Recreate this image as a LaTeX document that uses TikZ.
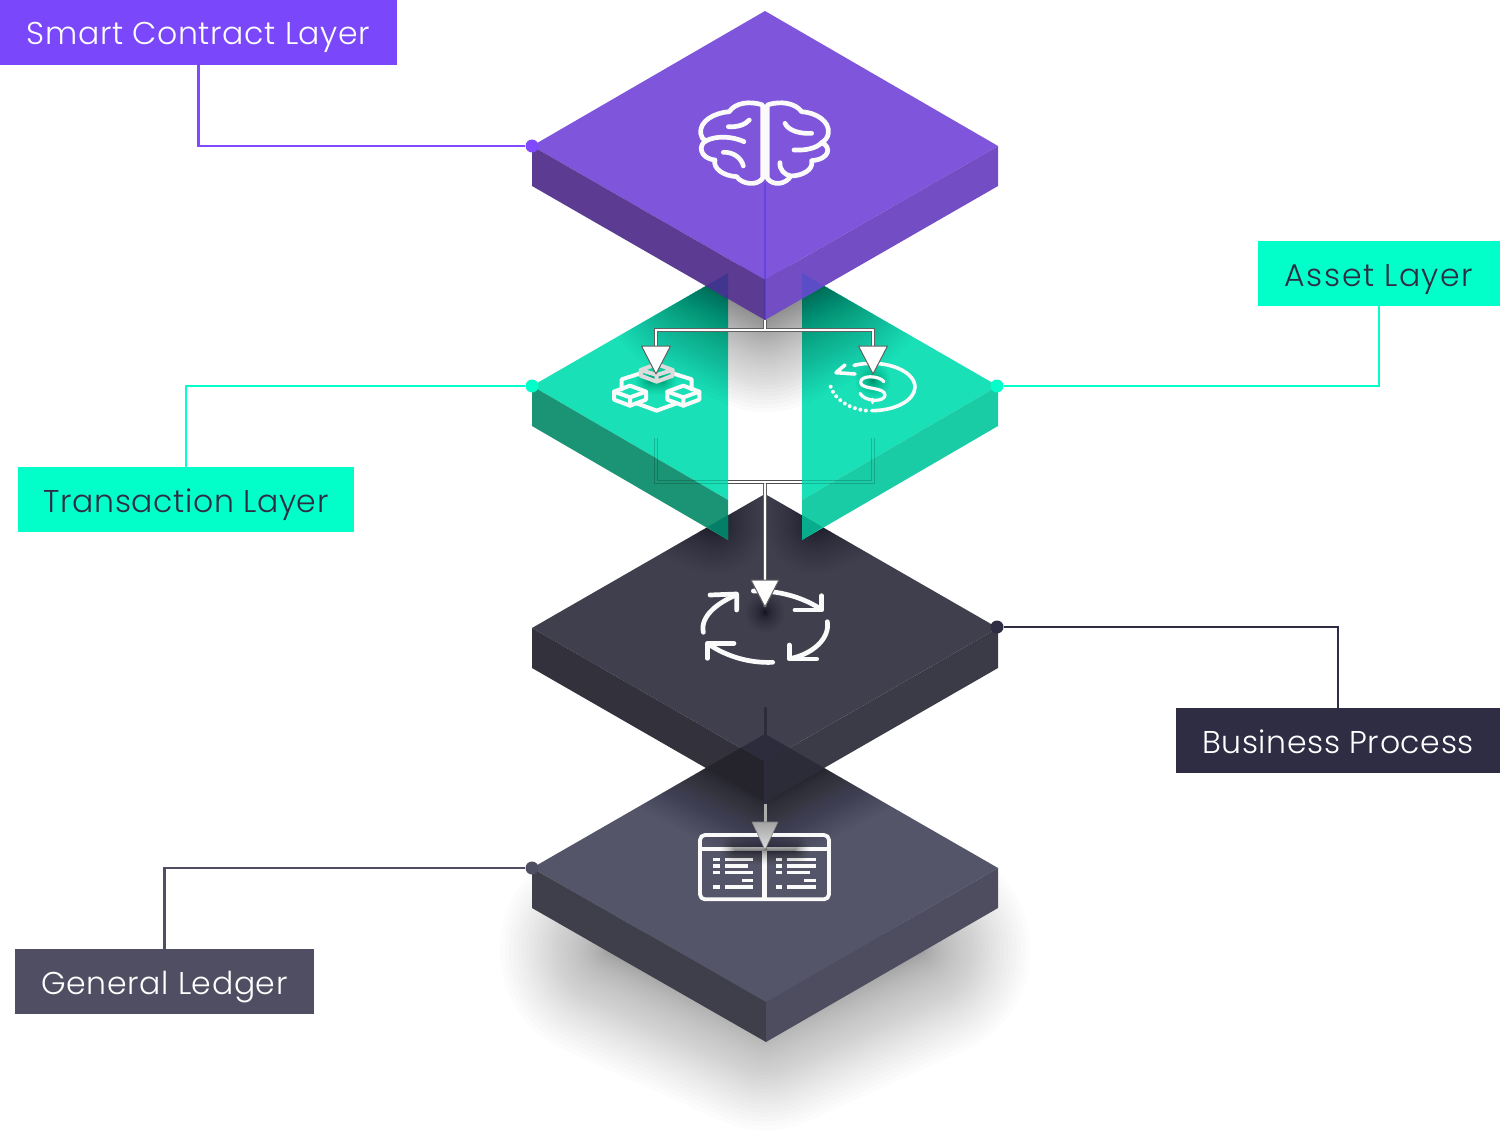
\documentclass[tikz,border=0pt]{standalone}
\usepackage{fontspec}
\setmainfont{Poppins}[UprightFont=* Light,LetterSpace=2]
\usepackage{xcolor}

\definecolor{violetbar}{HTML}{7B47FA}
\definecolor{violetline}{HTML}{8049FF}
\definecolor{violettop}{HTML}{7F55DC}
\definecolor{violetleft}{HTML}{5B3C92}
\definecolor{violetright}{HTML}{734DC4}
\definecolor{violetlap}{HTML}{403690}
\definecolor{violetlapr}{HTML}{5B4DC5}
\definecolor{tealbar}{HTML}{03FFC9}
\definecolor{tealtop}{HTML}{19E0B6}
\definecolor{tealleft}{HTML}{1B9475}
\definecolor{tealright}{HTML}{1ACCA6}
\definecolor{teallap}{HTML}{047F67}
\definecolor{teallapr}{HTML}{06AC8B}
\definecolor{inkbar}{HTML}{2E2D44}
\definecolor{inktop}{HTML}{403F4D}
\definecolor{inkleft}{HTML}{32313C}
\definecolor{inkright}{HTML}{3B3A47}
\definecolor{inklap}{HTML}{2D2C3D}
\definecolor{inklapl}{HTML}{25242D}
\definecolor{inklapr}{HTML}{2C2B38}
\definecolor{slatebar}{HTML}{4F4E63}
\definecolor{slatetop}{HTML}{55556A}
\definecolor{slateleft}{HTML}{3F3E4B}
\definecolor{slateright}{HTML}{4E4D60}
\definecolor{iconwhite}{HTML}{FAFAFA}

\tikzset{
  tag/.style={rectangle,inner sep=0pt,minimum height=65pt,text height=25pt,text depth=0pt,font=\fontsize{31.5}{32}\selectfont},
  leader/.style={line width=2.4pt},
  dotmark/.style={circle,inner sep=0pt,minimum size=13pt},
  iconline/.style={draw=iconwhite,line width=4.7pt,line cap=round,line join=round},
  pipe/.style={draw=black!62,double=white,line width=1pt,double distance=2.4pt},
  headtip/.style={draw=black!62,fill=white,line width=1pt,line join=round},
  faintline/.style={draw=black,opacity=.18,line width=.9pt},
}

% stacked see-through copies of a path give a soft edge
\newcommand{\softshadow}[3]{%
  \foreach \w in {1,...,48}
    \draw[black,fill=black,opacity=#3,line join=round,line cap=round,line width={\w*\w/2304*#2}] #1;
}

\begin{document}
\begin{tikzpicture}[x=1pt,y=-1pt]
\useasboundingbox (0,0) rectangle (1500,1145);

% general ledger slab
\softshadow{(610,950) -- (765,880) -- (920,950) -- (765,1020) -- cycle}{220}{0.013}
\fill[slatetop] (532,868) -- (765,734) -- (998,868) -- (766,1002) -- cycle;
\fill[slateleft] (532,868) -- (766,1002) -- (766,1042) -- (532,908) -- cycle;
\fill[slateright] (998,868) -- (766,1002) -- (766,1042) -- (998,908) -- cycle;
\begin{scope}
\clip (532,868) -- (765,734) -- (998,868) -- (766,1002) -- cycle;
\softshadow{(670,745) -- (765,690) -- (860,745) -- (765,795) -- cycle}{140}{0.014}
\end{scope}

% ledger icon
\begin{scope}[shift={(690,820)},scale=0.3333]
\draw[iconline,line width=3.8pt,rounded corners=5pt] (30,45) rectangle (417,238);
\draw[iconline,line width=3.4pt] (30,87) -- (417,87);
\draw[iconline,line width=4.6pt,line cap=butt] (224,87) -- (224,238);
\foreach \r/\a/\b in {118/105/190,138/105/175,157/105/190,201/105/190}
  \draw[iconline,line width=3.2pt,line cap=butt] (70,\r) -- (90,\r) (\a,\r) -- (\b,\r);
\draw[iconline,line width=3.2pt,line cap=butt] (157,182) -- (190,182);
\foreach \r/\a/\b in {118/290/378,138/290/378,157/290/360,201/290/378}
  \draw[iconline,line width=3.2pt,line cap=butt] (258,\r) -- (276,\r) (\a,\r) -- (\b,\r);
\draw[iconline,line width=3.2pt,line cap=butt] (342,182) -- (378,182);
\end{scope}

% business process slab
\fill[inktop] (532,628) -- (765,494) -- (998,628) -- (765,762) -- cycle;
\fill[inkleft] (532,628) -- (765,762) -- (765,802) -- (532,668) -- cycle;
\fill[inkright] (998,628) -- (765,762) -- (765,802) -- (998,668) -- cycle;
\begin{scope}
\clip (532,868) -- (765,734) -- (998,868) -- (766,1002) -- cycle;
\fill[inklap] (532,628) -- (765,494) -- (998,628) -- (765,762) -- cycle;
\fill[inklapl] (532,628) -- (765,762) -- (765,802) -- (532,668) -- cycle;
\fill[inklapr] (998,628) -- (765,762) -- (765,802) -- (998,668) -- cycle;
\end{scope}
\begin{scope}
\clip (532,628) -- (765,494) -- (998,628) -- (765,762) -- cycle;
\softshadow{(625,490) -- (715,490) -- (715,525) -- cycle}{100}{0.008}
\softshadow{(905,490) -- (815,490) -- (815,525) -- cycle}{100}{0.008}
\end{scope}

% cycle icon
\begin{scope}[shift={(690,575)},scale=0.3333]
\draw[iconline] (40,172) .. controls (30,125) and (80,85) .. (138,60);
\draw[iconline] (60,60) -- (140,57) -- (140,105);
\draw[iconline] (190,48) .. controls (270,45) and (345,70) .. (393,103);
\draw[iconline] (315,105) -- (395,105) -- (395,62);
\draw[iconline] (412,140) .. controls (420,190) and (370,235) .. (305,250);
\draw[iconline] (298,210) -- (298,252) -- (380,252);
\draw[iconline] (248,262) .. controls (180,265) and (110,245) .. (55,207);
\draw[iconline] (132,205) -- (52,205) -- (52,250);
\end{scope}

\coordinate (ledgertop) at (765,708);
\coordinate (ledgerbend) at (765,804);
\coordinate (ledgertip) at (765,850);
\coordinate (cycletip) at (765,607);
\coordinate (lowjoin) at (765,482);
\coordinate (lowleft) at (656,438);
\coordinate (lowright) at (873,438);
\coordinate (blockneck) at (656,350);
\coordinate (dollarneck) at (873,350);
\coordinate (blocktip) at (656,374);
\coordinate (dollartip) at (873,374);
\coordinate (treetop) at (765,183);
\coordinate (treelow) at (765,320);
\coordinate (treejoin) at (765,330);

% ledger arrow
\draw[line width=3pt,draw=inklap,line cap=round] (ledgertop) -- (ledgerbend);
\draw[line width=3pt,draw=black!32] (ledgerbend) -- (ledgertip);
\softshadow{(735,850) -- (795,850)}{30}{0.012}
\draw[draw=black!50,line width=.6pt,top color=black!36,bottom color=black!12,line join=round] (ledgertip) ++(-13,-28) -- ++(26,0) -- ++(-13,28) -- cycle;

% cycle arrow
\draw[pipe] (lowleft) |- (lowjoin) -| (lowright) (lowjoin) -- (cycletip);
\softshadow{(765,612) -- (765,613)}{40}{0.009}
\draw[headtip] (cycletip) ++(-14,-27) -- ++(28,0) -- ++(-14,27) -- cycle;

% transaction and asset slab, cut open in the middle
\fill[tealtop] (532,386) -- (728,273) -- (728,500) -- cycle;
\fill[tealleft] (532,386) -- (728,500) -- (728,540) -- (532,426) -- cycle;
\fill[tealtop] (998,386) -- (802,273) -- (802,500) -- cycle;
\fill[tealright] (998,386) -- (802,500) -- (802,540) -- (998,426) -- cycle;
\fill[teallap] (707.6,527) -- (728,515) -- (728,540) -- cycle;
\fill[teallapr] (822.4,527) -- (802,515) -- (802,540) -- cycle;
\draw[faintline] (lowleft) ++(-1.7,0) -- ++(0,45.7) -- ++(220.4,0) -- ++(0,-45.7);
\draw[faintline] (lowleft) ++(1.7,0) -- ++(0,42.3) -- ++(213.6,0) -- ++(0,-42.3);

\begin{scope}
\clip (532,386) -- (765,252) -- (998,386) -- (765,521) -- cycle;
\softshadow{(700,280) -- (765,245) -- (830,280) -- (765,312) -- cycle}{200}{0.016}
\end{scope}
\softshadow{(650,380) -- (662,380)}{30}{0.006}
\softshadow{(873,380) -- (873,381)}{36}{0.009}

% blocks icon
\begin{scope}[shift={(600,340)},scale=0.3333]
\draw[iconline,line width=4pt] (122,100) -- (65,118) -- (65,148);
\draw[iconline,line width=4pt] (218,100) -- (275,118) -- (275,148);
\draw[iconline,line width=4pt] (110,190) -- (170,212) -- (230,190);
\draw[iconline,line width=4pt,draw=iconwhite!88!black] (122,90) -- (170,72) -- (218,90) -- (218,107) -- (170,125) -- (122,107) -- cycle (122,90) -- (170,105) -- (218,90) (170,105) -- (170,125);
\foreach \c in {90,250}{
  \draw[iconline,line width=4pt] (\c-48,155) -- (\c,137) -- (\c+48,155) -- (\c+48,179) -- (\c,197) -- (\c-48,179) -- cycle;
  \draw[iconline,line width=4pt] (\c-48,155) -- (\c,172) -- (\c+48,155) (\c,172) -- (\c,197);
}
\end{scope}

% dollar icon
\begin{scope}[shift={(810,340)},scale=0.3333]
\draw[iconline,line width=3.6pt] (185,212) arc[start angle=90,end angle=-114,x radius=130,y radius=71];
\draw[iconline,line width=3.6pt] (105,75) -- (78,98) -- (135,102);
\draw[iconline,dash pattern=on 0pt off 5.6pt,line width=4pt] (62,140) .. controls (75,180) and (120,207) .. (170,212);
\draw[iconline,line width=3.2pt] (222,125) .. controls (205,105) and (150,105) .. (152,128) .. controls (155,150) and (225,140) .. (225,165) .. controls (225,187) and (165,187) .. (150,160);
\draw[iconline,line width=3.2pt] (188,178) -- (188,188);
\end{scope}

% smart contract slab
\fill[violettop] (532,146) -- (765,11) -- (998,146) -- (765,280) -- cycle;
\fill[violetleft] (532,146) -- (765,280) -- (765,320) -- (532,186) -- cycle;
\fill[violetright] (998,146) -- (765,280) -- (765,320) -- (998,186) -- cycle;
\fill[violetlap] (706,286) -- (728,273) -- (728,299) -- cycle;
\fill[violetlapr] (824,286) -- (802,273) -- (802,299) -- cycle;
\draw[draw=blue!60!violetright,opacity=.3,line width=2.6pt] (treetop) -- (treelow);

% brain icon
\begin{scope}[shift={(690,90)},scale=0.3333]
\draw[iconline] (218,265) -- (218,45) .. controls (180,32) and (135,38) .. (118,65) .. controls (75,68) and (28,92) .. (32,130) .. controls (33,140) and (38,148) .. (47,153) .. controls (25,165) and (28,205) .. (75,210) .. controls (68,235) and (100,258) .. (140,260) .. controls (155,282) and (200,290) .. (218,265);
\draw[iconline] (232,265) -- (232,45) .. controls (270,32) and (315,38) .. (335,65) .. controls (380,68) and (420,95) .. (415,130) .. controls (413,143) and (405,152) .. (395,158) .. controls (425,170) and (420,208) .. (365,212) .. controls (372,240) and (335,258) .. (302,258) .. controls (290,282) and (250,290) .. (232,265);
\draw[iconline] (115,110) .. controls (140,112) and (165,105) .. (178,90);
\draw[iconline] (47,153) .. controls (80,135) and (130,140) .. (162,155);
\draw[iconline] (100,187) .. controls (130,185) and (155,205) .. (160,228);
\draw[iconline] (285,100) .. controls (295,122) and (330,132) .. (365,130);
\draw[iconline] (312,180) .. controls (345,182) and (380,175) .. (395,158);
\draw[iconline] (270,218) .. controls (268,240) and (285,255) .. (302,258);
\end{scope}

% tree below the smart contract slab
\draw[pipe] (blockneck) |- (treejoin) -| (dollarneck) (treelow) -- (treejoin);
\draw[headtip] (blocktip) ++(-14.5,-28) -- ++(29,0) -- ++(-14.5,28) -- cycle;
\draw[headtip] (dollartip) ++(-14.5,-28) -- ++(29,0) -- ++(-14.5,28) -- cycle;

% labels
\node[tag,fill=violetbar,text=white,minimum width=397pt] (smartlabel) at (198.5,32.5) {Smart Contract Layer};
\node[tag,fill=tealbar,text=inkbar,minimum width=242pt] (assetlabel) at (1379,273.5) {\addfontfeature{LetterSpace=4.7}Asset Layer};
\node[tag,fill=tealbar,text=inkbar,minimum width=336pt] (translabel) at (186,499.5) {Transaction Layer};
\node[tag,fill=inkbar,text=white,minimum width=324pt] (bizlabel) at (1338,740.5) {Business Process};
\node[tag,fill=slatebar,text=white,minimum width=299pt] (ledgerlabel) at (164.5,981.5) {General Ledger};

\node[dotmark,fill=violetline] (smartdot) at (532,146) {};
\node[dotmark,fill=tealbar] (transdot) at (532,386) {};
\node[dotmark,fill=tealbar] (assetdot) at (997,386) {};
\node[dotmark,fill=inkbar] (bizdot) at (997,627) {};
\node[dotmark,fill=slatebar] (ledgerdot) at (532,868) {};

\draw[leader,violetline] (smartlabel.south) |- (smartdot);
\draw[leader,tealbar] (translabel.north) |- (transdot);
\draw[leader,tealbar] (assetlabel.south) |- (assetdot);
\draw[leader,inkbar] (bizlabel.north) |- (bizdot);
\draw[leader,slatebar] (ledgerlabel.north) |- (ledgerdot);
\end{tikzpicture}
\end{document}
